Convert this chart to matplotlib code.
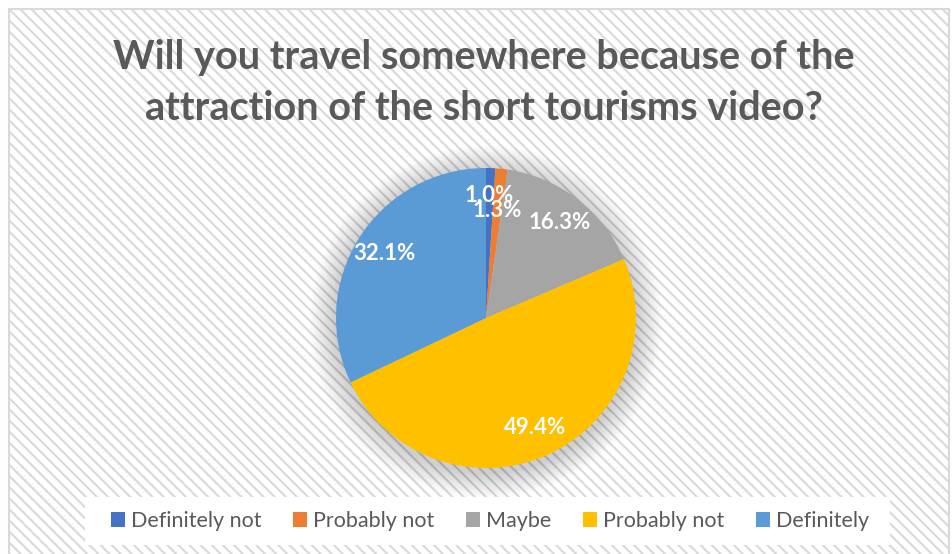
import matplotlib.pyplot as plt
import numpy as np
from matplotlib.patches import Rectangle, Circle

categories = ["Definitely not", "Probably not", "Maybe", "Probably not", "Definitely"]
shares = [1.0, 1.3, 16.3, 49.4, 32.1]
colors = ["#4472C4", "#ED7D31", "#A5A5A5", "#FFC000", "#5B9BD5"]
# how far out each percentage sits along its wedge
label_radius = [0.82, 0.72, 0.8, 0.8, 0.8]
label_nudge = [-0.005, -0.0, 0, 0, 0]

title = "Will you travel somewhere because of the\nattraction of the short tourisms video?"
TEXT_GRAY = "#595959"

plt.rcParams['font.family'] = ['Lato', 'DejaVu Sans']
plt.rcParams['hatch.linewidth'] = 1.5
plt.rcParams['hatch.color'] = '#F2F2F2'

W, H = 953, 554
fig = plt.figure(figsize=(W / 100, H / 100), dpi=100)
fig.patch.set_facecolor('white')

# chart area: striped fill with a thin gray border
bg = Rectangle((9 / W, -0.05), 940 / W, 1.05 - 9 / H, transform=fig.transFigure,
               facecolor='white', edgecolor='#D9D9D9', hatch='\\\\\\', lw=1.5, zorder=-2)
fig.patches.append(bg)

fig.text(484 / W, 1 - 83 / H, title, ha='center', va='center', fontsize=28.5, fontweight='bold',
         color=TEXT_GRAY, linespacing=1.5)

# pie axes: centre ~(486, 318), radius ~150 px
r_px = 150
cx, cy = 486, 318
ax = fig.add_axes([(cx - r_px) / W, 1 - (cy + r_px) / H, 2 * r_px / W, 2 * r_px / H])
ax.axis('off')

# soft shadow behind the pie
for i in range(16):
    rr = 1.0 + 0.011 * (16 - i)
    ax.add_patch(Circle((0.0, -0.025), rr, facecolor='black', edgecolor='none',
                        alpha=0.013, zorder=1, clip_on=False))

wedges, _ = ax.pie(shares, colors=colors, startangle=90, counterclock=False,
                   radius=1.0, wedgeprops=dict(linewidth=0, zorder=2))
for w in wedges:
    w.set_zorder(2)
ax.set_xlim(-1, 1)
ax.set_ylim(-1, 1)
ax.set_aspect('equal')

for w, val, rf, nd in zip(wedges, shares, label_radius, label_nudge):
    mid = np.deg2rad((w.theta1 + w.theta2) / 2)
    ax.text(rf * np.cos(mid) + nd, rf * np.sin(mid), f"{val:.1f}%", ha='center', va='center',
            color='white', fontsize=16, fontweight='bold', zorder=5)

# legend on a white strip
fig.patches.append(Rectangle((85 / W, 1 - 545 / H), 805 / W, 48 / H, transform=fig.transFigure,
                             facecolor='white', edgecolor='none', zorder=-1))
leg = fig.legend(wedges, categories, loc='center', bbox_to_anchor=(490 / W, 1 - 521 / H),
                 ncol=5, frameon=False, fontsize=15.5, handlelength=0.65, handleheight=0.65,
                 handletextpad=0.3, columnspacing=1.45, labelcolor=TEXT_GRAY)

fig.savefig('out.png', dpi=100)
